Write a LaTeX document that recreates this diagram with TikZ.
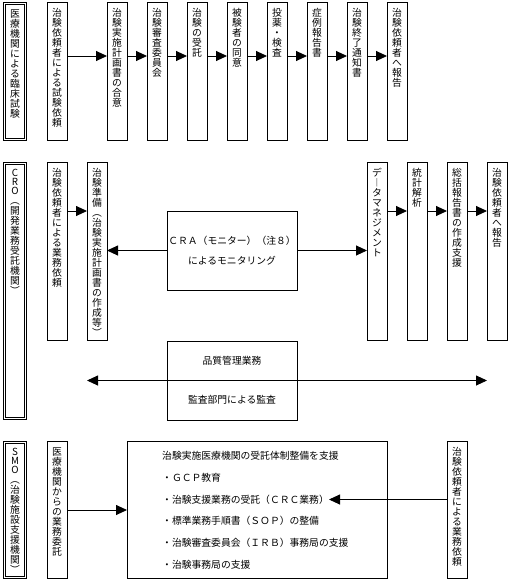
\documentclass[tikz,border=0pt]{standalone}
\usepackage{fontspec}
\setmainfont{Noto Sans CJK JP}
\usetikzlibrary{positioning,arrows.meta}
\tikzstyle{vbox}=[rectangle, draw=black, line width=0.9pt, inner sep=0pt,
                  outer sep=0pt, minimum width=20pt, anchor=north west]
\tikzstyle{dbox}=[rectangle, draw=black, double, double distance=1.6pt,
                  line width=0.7pt, inner sep=0pt, outer sep=0pt, minimum width=21pt]
\tikzstyle{tbox}=[rectangle, draw=black, line width=0.9pt, inner sep=0pt,
                  outer sep=0pt, align=center, anchor=north west]
\tikzstyle{item}=[anchor=west, inner sep=0pt]
\tikzstyle{pline}=[-{Triangle[length=11pt,width=10pt]}, line width=0.9pt]
\tikzstyle{dline}=[{Triangle[length=11pt,width=10pt]}-{Triangle[length=11pt,width=10pt]}, line width=0.9pt]
\newcommand\chsplit[1]{\ifx#1\relax\else\hbox to 20pt{\hss#1\hss}\expandafter\chsplit\fi}
\newcommand\vcolumn[3][]{\vbox to #2{\baselineskip=9pt\lineskiplimit=-10pt\vskip 6pt
  \chsplit#1\relax\baselineskip=10pt\chsplit#3\relax\vfill}}

\begin{document}
\begin{tikzpicture}[x=1pt, y=-1pt, node distance=20pt, font=\fontsize{9.8pt}{10pt}\selectfont]
\useasboundingbox (0,0) rectangle (508,581);

% clinical trial at the hospital
\node (HOSP) [dbox] at (15,71.5) {\vcolumn{136pt}{医療機関による臨床試験}};
\node (H1) [vbox] at (47,2.5) {\vcolumn{138pt}{治験依頼者による試験依頼}};
\node (H2) [vbox,right=40pt of H1] {\vcolumn{138pt}{治験実施計画書の合意}};
\node (H3) [vbox,right=of H2] {\vcolumn{138pt}{治験審査委員会}};
\node (H4) [vbox,right=of H3] {\vcolumn{138pt}{治験の受託}};
\node (H5) [vbox,right=of H4] {\vcolumn{138pt}{被験者の同意}};
\node (H6) [vbox,right=of H5] {\vcolumn{138pt}{投薬・検査}};
\node (H7) [vbox,right=of H6] {\vcolumn{138pt}{症例報告書}};
\node (H8) [vbox,right=of H7] {\vcolumn{138pt}{治験終了通知書}};
\node (H9) [vbox,right=of H8] {\vcolumn{138pt}{治験依頼者へ報告}};
\foreach \a/\b in {H1/H2,H2/H3,H3/H4,H4/H5,H5/H6,H6/H7,H7/H8,H8/H9}
  \draw[pline] ([yshift=-53.5pt]\a.north east) -- ([yshift=-53.5pt]\b.north west);

% CRO
\node (CRO) [dbox] at (15,291) {\vcolumn[CRO]{255pt}{︵開発業務受託機関︶}};
\node (C1) [vbox] at (47,162.5) {\vcolumn{178pt}{治験依頼者による業務依頼}};
\node (C2) [vbox,right=of C1] {\vcolumn{178pt}{治験準備︵治験実施計画書の作成等︶}};
\node (CRA) [tbox, minimum width=130pt, minimum height=79pt,
  font=\fontsize{9.8pt}{20pt}\selectfont] at (167,211) {ＣＲＡ（モニター）（注８）\\によるモニタリング};
\node (DATA) [vbox] at (367,162.5) {\vcolumn{178pt}{デ︱タマネジメント}};
\node (STAT) [vbox,right=of DATA] {\vcolumn{178pt}{統計解析}};
\node (SUMR) [vbox,right=of STAT] {\vcolumn{178pt}{総括報告書の作成支援}};
\node (REP) [vbox,right=of SUMR] {\vcolumn{178pt}{治験依頼者へ報告}};
\foreach \a/\b in {C1/C2,DATA/STAT,STAT/SUMR,SUMR/REP}
  \draw[pline] ([yshift=-48.5pt]\a.north east) -- ([yshift=-48.5pt]\b.north west);
\draw[pline] (CRA.west) -- (CRA.west -| C2.east);
\draw[pline] (CRA.east) -- (CRA.east -| DATA.west);
\node (QA) [tbox, minimum width=130pt, minimum height=79pt,
  font=\fontsize{9.8pt}{39pt}\selectfont] at (167,341) {品質管理業務\\監査部門による監査};
\draw[dline] (QA.center -| C2.west) -- (QA.center -| REP.west);

% SMO
\node (SMO) [dbox] at (15,510) {\vcolumn[SMO]{135pt}{︵治験施設支援機関︶}};
\node (S1) [vbox] at (47,441.5) {\vcolumn{137pt}{医療機関からの業務委託}};
\node (SUP) [tbox, minimum width=260pt, minimum height=137pt] at (127,441.5) {};
\node (SUP0) [item] at (162,456) {治験実施医療機関の受託体制整備を支援};
\node (GCP) [item] at (162,478) {・ＧＣＰ教育};
\node (CRC) [item] at (162,499.5) {・治験支援業務の受託（ＣＲＣ業務）};
\node (SOP) [item] at (162,521) {・標準業務手順書（ＳＯＰ）の整備};
\node (IRB) [item] at (162,543) {・治験審査委員会（ＩＲＢ）事務局の支援};
\node (OFF) [item] at (162,565) {・治験事務局の支援};
\node (S2) [vbox] at (447,441.5) {\vcolumn{137pt}{治験依頼者による業務依頼}};
\draw[pline] (S1) -- (SUP);
\draw[pline] (S2.west |- CRC.east) -- (CRC.east);

\end{tikzpicture}
\end{document}
